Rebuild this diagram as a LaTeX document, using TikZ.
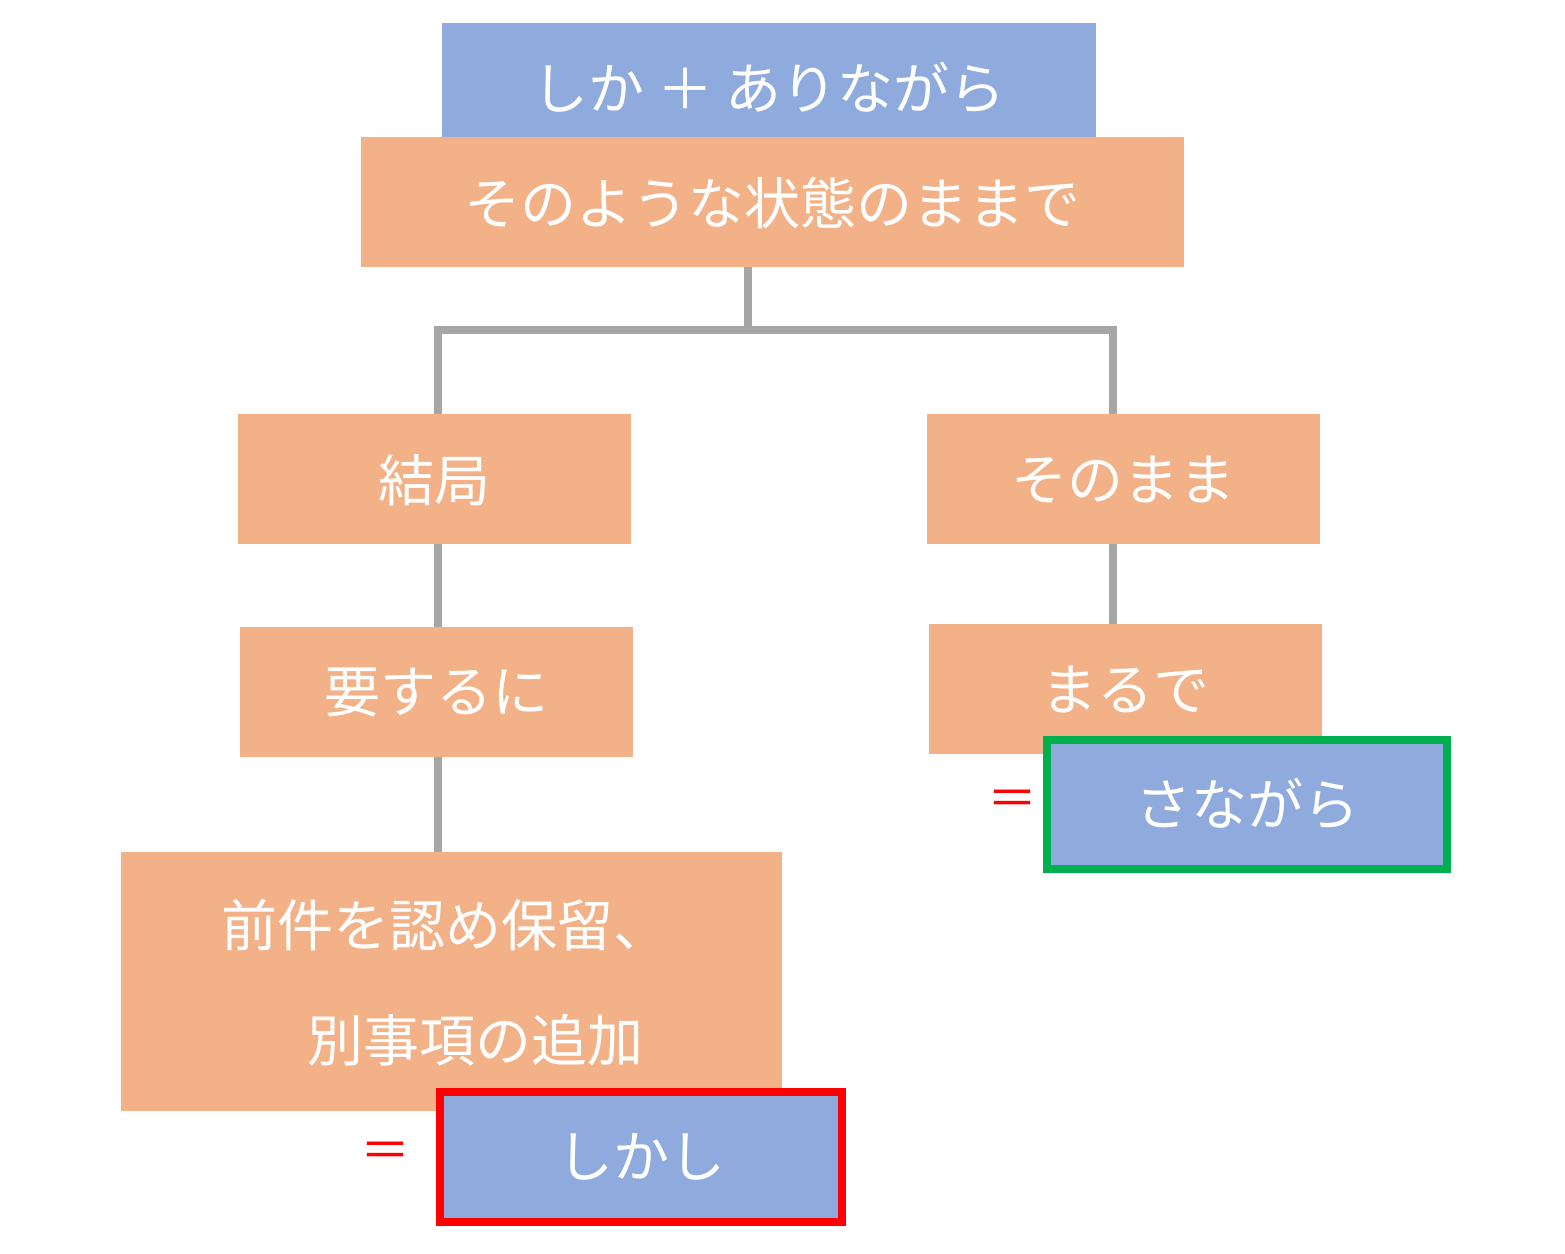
\documentclass[tikz,border=0pt]{standalone}
\usepackage{fontspec}
\newfontfamily\cjk{Noto Sans CJK JP}
\definecolor{org}{HTML}{F2B186}
\definecolor{blu}{HTML}{8FAADC}
\definecolor{gln}{HTML}{A6A6A6}
\definecolor{grn}{HTML}{00B050}
\begin{document}
\begin{tikzpicture}[x=1pt,y=-1pt,
  txt/.style={font=\cjk\fontsize{56}{70}\selectfont,text=white},
  ln/.style={draw=gln,line width=8pt},
  eq/.style={font=\cjk\fontsize{50}{50}\selectfont,text=red}]
\useasboundingbox (0,0) rectangle (1565,1253);
\fill[blu] (442,23) rectangle (1096,153);
\node[txt] (t0) at (769,88) {しか ＋ ありながら};
\fill[org] (361,137) rectangle (1184,267);
\node[txt] (t1) at (772,203) {そのような状態のままで};
\draw[ln] (748,267) -- (748,330);
\draw[ln] (438,414) -- (438,330) -- (1113,330) -- (1113,414);
\fill[org] (238,414) rectangle (631,544);
\node[txt] (a) at (434,480) {結局};
\fill[org] (927,414) rectangle (1320,544);
\node[txt] (b) at (1123,480) {そのまま};
\draw[ln] (438,544) -- (438,627);
\draw[ln] (1113,544) -- (1113,624);
\fill[org] (240,627) rectangle (633,757);
\node[txt] (c) at (436,692) {要するに};
\fill[org] (929,624) rectangle (1322,754);
\node[txt] (d) at (1125,690) {まるで};
\draw[ln] (438,757) -- (438,852);
\fill[org] (121,852) rectangle (782,1111);
\node[txt] (e1) at (445,925) {前件を認め保留、};
\node[txt] (e2) at (475,1040) {別事項の追加};
\fill[blu,draw=red,line width=8pt] (440,1092) rectangle (842,1222);
\node[txt] (f) at (641,1157) {しかし};
\node[eq] (q1) at (385,1155) {＝};
\fill[blu,draw=grn,line width=8pt] (1047,740) rectangle (1447,869);
\node[txt] (g) at (1247,804) {さながら};
\node[eq] (q2) at (1012,803) {＝};
\end{tikzpicture}
\end{document}
